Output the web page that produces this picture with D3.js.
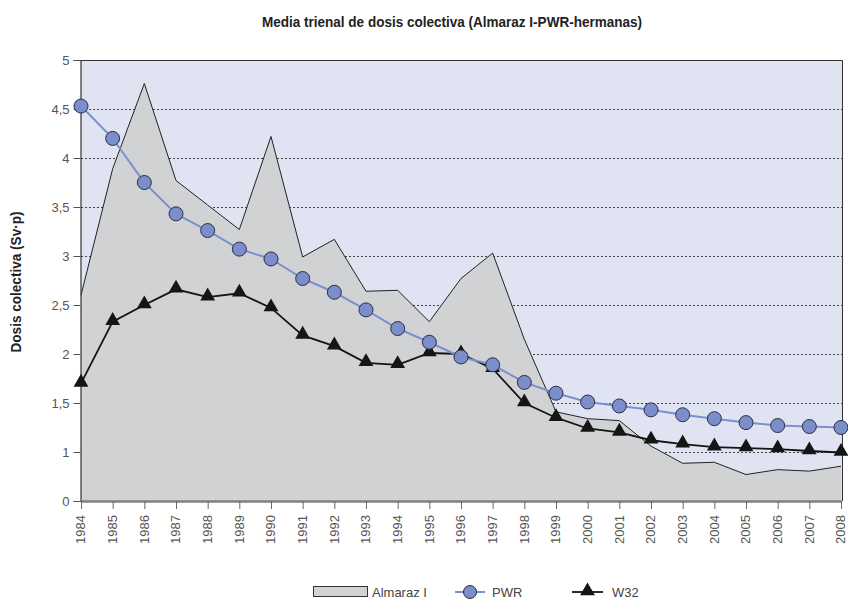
<!DOCTYPE html>
<html>
<head>
<meta charset="utf-8">
<script src="https://cdn.jsdelivr.net/npm/d3@7"></script>
<style>
    body { margin: 0; background: #fff; }
    svg { display: block; }
</style>
</head>
<body>
<div id="vis"></div>
<script>
// data
var years = [1984, 1985, 1986, 1987, 1988, 1989, 1990, 1991, 1992, 1993, 1994, 1995,
    1996, 1997, 1998, 1999, 2000, 2001, 2002, 2003, 2004, 2005, 2006, 2007, 2008];

var almaraz = [2.60, 3.89, 4.76, 3.77, 3.52, 3.27, 4.22, 2.99, 3.17, 2.64, 2.65, 2.33,
    2.77, 3.03, 2.15, 1.41, 1.34, 1.32, 1.06, 0.77, 0.79, 0.54, 0.64, 0.61, 0.71];

var pwr = [4.53, 4.20, 3.75, 3.43, 3.26, 3.07, 2.97, 2.77, 2.63, 2.45, 2.26, 2.12,
    1.97, 1.89, 1.71, 1.60, 1.51, 1.47, 1.43, 1.38, 1.34, 1.30, 1.27, 1.26, 1.25];

var w32 = [1.70, 2.33, 2.50, 2.66, 2.58, 2.62, 2.47, 2.19, 2.08, 1.91, 1.89, 2.01,
    2.00, 1.85, 1.50, 1.35, 1.24, 1.20, 1.12, 1.08, 1.05, 1.04, 1.03, 1.01, 0.99];

// the axis has no 0,5 step: 0 to 1 takes the room of half a unit
var yTicks = [0, 1, 1.5, 2, 2.5, 3, 3.5, 4, 4.5, 5];
var gridTicks = [1, 1.5, 2, 2.5, 3, 3.5, 4, 4.5];

var legendItems = ['Almaraz I', 'PWR', 'W32'];

var width = 848;
var height = 603;
var plot = { left: 81, top: 60, right: 842, bottom: 501 };

var plain = '"Liberation Sans", Arial, sans-serif';

var svg = d3.select('#vis')
    .append('svg')
        .attr('width', width)
        .attr('height', height);

var x = d3.scalePoint()
    .domain(years)
    .range([plot.left, plot.right - 1]);

var y = d3.scaleLinear()
    .domain([0, 1, 5])
    .range([plot.bottom, plot.bottom - (plot.bottom - plot.top) / 9, plot.top]);

// title (squeezed to look like a narrow face)
svg.append('text')
    .attr('x', 452)
    .attr('y', 27)
    .attr('text-anchor', 'middle')
    .attr('textLength', 380)
    .attr('lengthAdjust', 'spacingAndGlyphs')
    .style('font-family', plain)
    .style('font-weight', 'bold')
    .style('font-size', '15px')
    .style('fill', '#222')
    .text('Media trienal de dosis colectiva (Almaraz I-PWR-hermanas)');

// plot background
svg.append('rect')
    .attr('x', plot.left)
    .attr('y', plot.top)
    .attr('width', plot.right - plot.left)
    .attr('height', plot.bottom - plot.top)
    .attr('fill', '#e0e3f2');

// dotted grid
svg.append('g')
    .selectAll('line')
    .data(gridTicks)
    .enter()
    .append('line')
        .attr('x1', plot.left)
        .attr('x2', plot.right)
        .attr('y1', function(d) { return Math.round(y(d)) + 0.5; })
        .attr('y2', function(d) { return Math.round(y(d)) + 0.5; })
        .attr('stroke', '#444')
        .attr('stroke-width', 1)
        .attr('stroke-dasharray', '2,2');

// Almaraz I area
var area = d3.area()
    .x(function(d, i) { return x(years[i]); })
    .y0(y(0))
    .y1(function(d) { return y(d); });

var topLine = d3.line()
    .x(function(d, i) { return x(years[i]); })
    .y(function(d) { return y(d); });

svg.append('path')
    .datum(almaraz)
    .attr('d', area)
    .attr('fill', '#d1d2d4');

svg.append('path')
    .datum(almaraz)
    .attr('d', topLine)
    .attr('fill', 'none')
    .attr('stroke', '#222')
    .attr('stroke-width', 1);

// frame: top and right dark, left axis dark, bottom axis grey
svg.append('path')
    .attr('d', 'M' + plot.left + ',' + (plot.top + 0.5) + 'H' + (plot.right + 0.5) + 'V' + plot.bottom)
    .attr('fill', 'none')
    .attr('stroke', '#333')
    .attr('stroke-width', 1);

// y axis
var yAxis = d3.axisLeft(y)
    .tickValues(yTicks)
    .tickSize(7)
    .tickPadding(4)
    .tickFormat(function(d) { return String(d).replace('.', ','); });

var gy = svg.append('g')
    .attr('transform', 'translate(' + (plot.left - 0.5) + ',0)')
    .call(yAxis);

gy.select('.domain').attr('stroke', '#333').attr('stroke-width', 1.2);
gy.selectAll('.tick line').attr('stroke', '#555');
gy.selectAll('.tick text')
    .style('font-family', plain)
    .style('font-size', '13px')
    .style('fill', '#555');

// x axis
var xAxis = d3.axisBottom(x)
    .tickSize(8)
    .tickSizeOuter(0)
    .tickFormat(function(d) { return d; });

var gx = svg.append('g')
    .attr('transform', 'translate(0,' + plot.bottom + ')')
    .call(xAxis);

gx.select('.domain').attr('stroke', '#808080').attr('stroke-width', 2.5);
gx.selectAll('.tick line').attr('stroke', '#666');
gx.selectAll('.tick text')
    .attr('transform', 'translate(0,14) rotate(-90)')
    .attr('x', 0)
    .attr('y', 0)
    .attr('dy', '0.3em')
    .attr('text-anchor', 'end')
    .style('font-family', plain)
    .style('font-size', '13px')
    .style('fill', '#555');

// y axis label
svg.append('text')
    .attr('transform', 'translate(21,282) rotate(-90)')
    .attr('text-anchor', 'middle')
    .attr('textLength', 141)
    .attr('lengthAdjust', 'spacingAndGlyphs')
    .style('font-family', plain)
    .style('font-weight', 'bold')
    .style('font-size', '14.5px')
    .style('fill', '#222')
    .text('Dosis colectiva (Sv\u00b7p)');

// W32 line and triangles
var seriesLine = d3.line()
    .x(function(d, i) { return x(years[i]); })
    .y(function(d) { return y(d); });

var triangle = d3.symbol().type(d3.symbolTriangle).size(95);

svg.append('path')
    .datum(w32)
    .attr('d', seriesLine)
    .attr('fill', 'none')
    .attr('stroke', '#151515')
    .attr('stroke-width', 1.8);

svg.append('g')
    .selectAll('path')
    .data(w32)
    .enter()
    .append('path')
        .attr('d', triangle)
        .attr('transform', function(d, i) { return 'translate(' + x(years[i]) + ',' + (y(d) - 1) + ')'; })
        .attr('fill', '#151515');

// PWR line and circles
svg.append('path')
    .datum(pwr)
    .attr('d', seriesLine)
    .attr('fill', 'none')
    .attr('stroke', '#7d8fd0')
    .attr('stroke-width', 2);

svg.append('g')
    .selectAll('circle')
    .data(pwr)
    .enter()
    .append('circle')
        .attr('cx', function(d, i) { return x(years[i]); })
        .attr('cy', function(d) { return y(d); })
        .attr('r', 7)
        .attr('fill', '#7b8dca')
        .attr('stroke', '#2c2f3e')
        .attr('stroke-width', 1);

// legend
var legend = svg.append('g');
var ly = 592;

legend.append('rect')
    .attr('x', 313.5)
    .attr('y', ly - 5.5)
    .attr('width', 54)
    .attr('height', 10)
    .attr('fill', '#d1d2d4')
    .attr('stroke', '#333')
    .attr('stroke-width', 1);

legend.append('line')
    .attr('x1', 455).attr('x2', 485)
    .attr('y1', ly).attr('y2', ly)
    .attr('stroke', '#7d8fd0')
    .attr('stroke-width', 2);

legend.append('circle')
    .attr('cx', 470)
    .attr('cy', ly)
    .attr('r', 6.5)
    .attr('fill', '#7b8dca')
    .attr('stroke', '#2c2f3e')
    .attr('stroke-width', 1);

legend.append('line')
    .attr('x1', 572).attr('x2', 603)
    .attr('y1', ly).attr('y2', ly)
    .attr('stroke', '#151515')
    .attr('stroke-width', 1.8);

legend.append('path')
    .attr('d', triangle)
    .attr('transform', 'translate(587.5,' + (ly - 1) + ')')
    .attr('fill', '#151515');

var legendX = [372, 492, 612];

legend.selectAll('text')
    .data(legendItems)
    .enter()
    .append('text')
        .attr('x', function(d, i) { return legendX[i]; })
        .attr('y', ly + 5)
        .style('font-family', plain)
        .style('font-size', '13px')
        .style('fill', '#444')
        .text(function(d) { return d; });
</script>
</body>
</html>
